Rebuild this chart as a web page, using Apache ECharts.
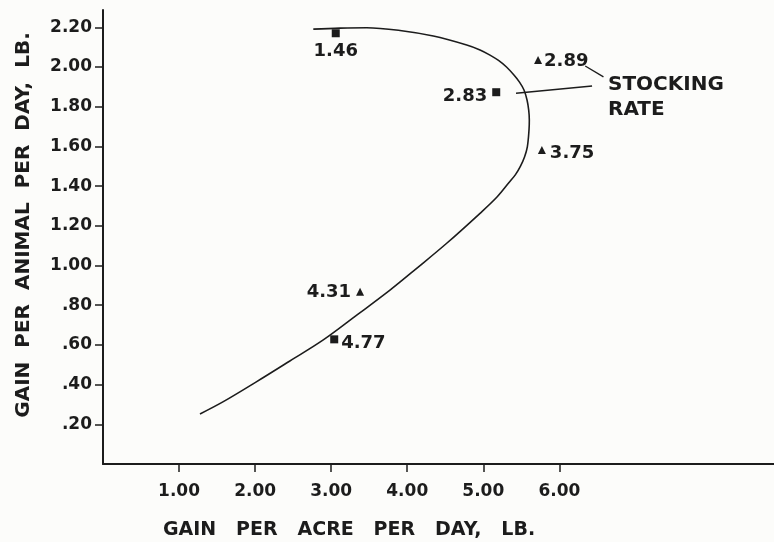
<!DOCTYPE html>
<html>
<head>
<meta charset="utf-8">
<script src="https://cdn.jsdelivr.net/npm/echarts@6/dist/echarts.min.js"></script>
<style>
  html, body { margin: 0; padding: 0; background: #fcfcfa; }
  #chart { width: 774px; height: 542px; }
</style>
</head>
<body>
<div id="chart"></div>
<script>
// Response curve: gain per acre (x) against gain per animal (y), traced along its path
const curveX = [2.765, 3.116, 3.467, 3.905, 4.343, 4.782, 4.957, 5.088, 5.200, 5.305, 5.397, 5.476, 5.535, 5.575, 5.597, 5.605, 5.601, 5.579, 5.542, 5.489, 5.423, 5.338, 5.180, 4.957, 4.519, 4.128, 3.773, 3.336, 2.896, 2.457, 2.021, 1.582, 1.275];
const curveY = [2.191, 2.196, 2.198, 2.184, 2.156, 2.111, 2.086, 2.060, 2.033, 2.000, 1.962, 1.924, 1.884, 1.834, 1.783, 1.733, 1.683, 1.598, 1.547, 1.501, 1.458, 1.418, 1.345, 1.263, 1.112, 0.987, 0.876, 0.750, 0.625, 0.519, 0.415, 0.314, 0.252];

// Observed points, square symbols, with their stocking rates
const squareX = [3.06, 5.17, 3.04];
const squareY = [2.170, 1.873, 0.628];
const squareRate = ['1.46', '2.83', '4.77'];

// Observed points, triangle symbols, with their stocking rates
const triangleX = [5.72, 5.77, 3.38];
const triangleY = [2.035, 1.582, 0.868];
const triangleRate = ['2.89', '3.75', '4.31'];

// Axis ticks and their printed labels
const xTickValues = [1, 2, 3, 4, 5, 6];
const xTickLabels = ['1.00', '2.00', '3.00', '4.00', '5.00', '6.00'];
const yTickValues = [0.2, 0.4, 0.6, 0.8, 1.0, 1.2, 1.4, 1.6, 1.8, 2.0, 2.2];
const yTickLabels = ['.20', '.40', '.60', '.80', '1.00', '1.20', '1.40', '1.60', '1.80', '2.00', '2.20'];

// Leader lines from the "STOCKING RATE" note to the 2.89 and 2.83 points
const leaderFrom = [[6.34, 2.005], [5.43, 1.868]];
const leaderTo = [[6.58, 1.950], [6.43, 1.904]];

const ink = '#1c1c1c';
const font = 'DejaVu Sans';

// Label placement for each stocking-rate tag: [position, offset]
const tagPlacement = {
  '1.46': ['bottom', [0, 1]],
  '2.83': ['left', [-1, 4]],
  '4.77': ['right', [-1, 4]],
  '2.89': ['right', [-2, 1]],
  '3.75': ['right', [0, 3]],
  '4.31': ['left', [-1, 1]]
};

function pointsWithTags(xs, ys, tags) {
  return xs.map((x, i) => {
    const p = tagPlacement[tags[i]];
    return {
      value: [x, ys[i]],
      tag: tags[i],
      label: { position: p[0], offset: p[1] }
    };
  });
}

const tagLabel = {
  show: true,
  formatter: (p) => p.data.tag,
  color: ink,
  fontFamily: font,
  fontWeight: 'bold',
  fontSize: 18,
  distance: 4
};

const chart = echarts.init(document.getElementById('chart'), null, { renderer: 'canvas' });

chart.setOption({
  backgroundColor: '#fcfcfa',
  animation: false,
  grid: { left: 103, right: 0, top: 10, bottom: 78 },
  xAxis: {
    type: 'value',
    min: 0,
    max: (774 - 103) / 76.06,
    axisLine: { show: true, onZero: false, lineStyle: { color: ink, width: 2 } },
    axisTick: { show: true, length: 8, customValues: xTickValues, lineStyle: { color: ink, width: 1.5 } },
    axisLabel: {
      customValues: xTickValues,
      formatter: (v) => xTickLabels[xTickValues.indexOf(v)] ?? '',
      color: ink, fontFamily: font, fontWeight: 'bold', fontSize: 17, margin: 19
    },
    splitLine: { show: false }
  },
  yAxis: {
    type: 'value',
    min: 0,
    max: 454 / 198.5,
    axisLine: { show: true, onZero: false, lineStyle: { color: ink, width: 2 } },
    axisTick: { show: true, length: 8, customValues: yTickValues, lineStyle: { color: ink, width: 1.5 } },
    axisLabel: {
      customValues: yTickValues,
      formatter: (v) => {
        const i = yTickValues.findIndex((t) => Math.abs(t - v) < 1e-6);
        return i >= 0 ? yTickLabels[i] : '';
      },
      color: ink, fontFamily: font, fontWeight: 'bold', fontSize: 17, margin: 11
    },
    splitLine: { show: false }
  },
  graphic: [
    {
      type: 'text', x: 163, y: 530,
      style: {
        text: 'GAIN   PER   ACRE   PER   DAY,   LB.',
        fill: ink, font: 'bold 19px "DejaVu Sans"',
        align: 'left', verticalAlign: 'middle'
      }
    },
    {
      type: 'text', x: 24, y: 225, rotation: Math.PI / 2,
      style: {
        text: 'GAIN  PER  ANIMAL  PER  DAY,  LB.',
        fill: ink, font: 'bold 20px "DejaVu Sans"',
        align: 'center', verticalAlign: 'middle'
      }
    },
    {
      type: 'text', x: 608, y: 85,
      style: { text: 'STOCKING', fill: ink, font: 'bold 20px "DejaVu Sans"', align: 'left', verticalAlign: 'middle' }
    },
    {
      type: 'text', x: 608, y: 110,
      style: { text: 'RATE', fill: ink, font: 'bold 20px "DejaVu Sans"', align: 'left', verticalAlign: 'middle' }
    }
  ],
  series: [
    {
      name: 'curve',
      type: 'line',
      data: curveX.map((x, i) => [x, curveY[i]]),
      smooth: 0.35,
      showSymbol: false,
      symbol: 'none',
      lineStyle: { color: ink, width: 1.6 },
      markLine: {
        silent: true,
        symbol: ['none', 'none'],
        label: { show: false },
        lineStyle: { color: ink, width: 1.4, type: 'solid' },
        data: leaderFrom.map((a, i) => [{ coord: a }, { coord: leaderTo[i] }])
      }
    },
    {
      name: 'square',
      type: 'scatter',
      symbol: 'rect',
      symbolSize: 8,
      itemStyle: { color: ink, opacity: 1 },
      label: tagLabel,
      data: pointsWithTags(squareX, squareY, squareRate)
    },
    {
      name: 'triangle',
      type: 'scatter',
      symbol: 'triangle',
      symbolSize: 8,
      itemStyle: { color: ink, opacity: 1 },
      label: tagLabel,
      data: pointsWithTags(triangleX, triangleY, triangleRate)
    }
  ]
});
</script>
</body>
</html>
